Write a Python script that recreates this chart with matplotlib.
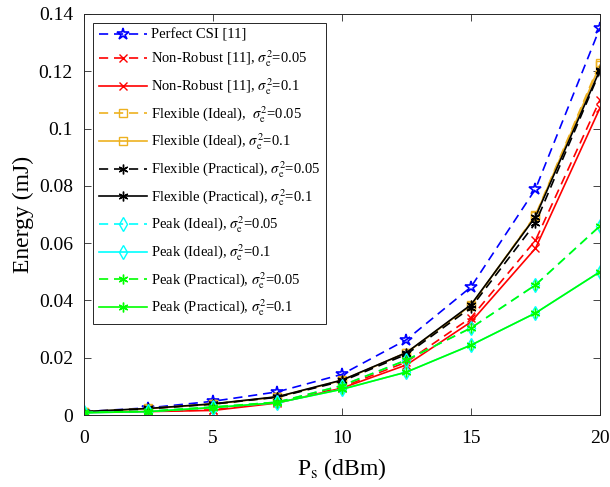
import numpy as np
import matplotlib
matplotlib.use("Agg")
import matplotlib.pyplot as plt

plt.rcParams['font.family'] = ['Liberation Serif', 'DejaVu Serif']
plt.rcParams['mathtext.fontset'] = 'stix'

# Transmit power (dBm)
ps = [0, 2.5, 5, 7.5, 10, 12.5, 15, 17.5, 20]

# Energy (mJ) for each scheme
perfect_csi = [0.0012, 0.0025, 0.0048, 0.0081, 0.0142, 0.0263, 0.0447, 0.0789, 0.1352]
nonrobust_005 = [0.0010, 0.0013, 0.0018, 0.0045, 0.0098, 0.0185, 0.0340, 0.0610, 0.1100]
nonrobust_01 = [0.0009, 0.0012, 0.0016, 0.0042, 0.0094, 0.0175, 0.0325, 0.0582, 0.1072]
flex_ideal_005 = [0.0012, 0.0023, 0.0039, 0.0063, 0.0120, 0.0218, 0.0380, 0.0698, 0.1230]
flex_ideal_01 = [0.0011, 0.0022, 0.0038, 0.0063, 0.0121, 0.0217, 0.0383, 0.0695, 0.1222]
flex_prac_005 = [0.0011, 0.0022, 0.0038, 0.0062, 0.0118, 0.0212, 0.0375, 0.0670, 0.1200]
flex_prac_01 = [0.0012, 0.0023, 0.0039, 0.0064, 0.0122, 0.0218, 0.0385, 0.0692, 0.1205]
peak_ideal_005 = [0.0009, 0.0013, 0.0028, 0.0045, 0.0103, 0.0192, 0.0304, 0.0454, 0.0660]
peak_ideal_01 = [0.0008, 0.0012, 0.0026, 0.0043, 0.0090, 0.0150, 0.0244, 0.0356, 0.0500]
peak_prac_005 = [0.0009, 0.0013, 0.0028, 0.0045, 0.0103, 0.0192, 0.0304, 0.0454, 0.0660]
peak_prac_01 = [0.0008, 0.0012, 0.0026, 0.0043, 0.0090, 0.0150, 0.0244, 0.0356, 0.0500]

orange = (0.929, 0.694, 0.125)
asterisk = (6, 2, 0)
dash = (0, (5.5, 3.5))

fig = plt.figure(figsize=(6.1, 4.87), dpi=100)
ax = fig.add_axes([0.1377, 0.1478, 0.8459, 0.8235])

ax.plot(ps, perfect_csi, color='blue', linestyle=dash, lw=1.2, marker='*', ms=9,
        mfc='none', mew=1.2, label='Perfect CSI [11]')
ax.plot(ps, nonrobust_005, color='red', linestyle=dash, lw=1.2, marker='x', ms=6,
        label=r'Non-Robust [11], $\sigma_\mathrm{e}^2$=0.05')
ax.plot(ps, nonrobust_01, color='red', linestyle='-', lw=1.2, marker='x', ms=6,
        label=r'Non-Robust [11], $\sigma_\mathrm{e}^2$=0.1')
ax.plot(ps, flex_ideal_005, color=orange, linestyle=dash, lw=1.2, marker='s', ms=6,
        mfc='none', label=r'Flexible (Ideal),  $\sigma_\mathrm{e}^2$=0.05')
ax.plot(ps, flex_ideal_01, color=orange, linestyle='-', lw=1.2, marker='s', ms=6,
        mfc='none', label=r'Flexible (Ideal), $\sigma_\mathrm{e}^2$=0.1')
ax.plot(ps, flex_prac_005, color='black', linestyle=dash, lw=1.2, marker=asterisk, ms=7,
        label=r'Flexible (Practical), $\sigma_\mathrm{e}^2$=0.05')
ax.plot(ps, flex_prac_01, color='black', linestyle='-', lw=1.2, marker=asterisk, ms=7,
        label=r'Flexible (Practical), $\sigma_\mathrm{e}^2$=0.1')
ax.plot(ps, peak_ideal_005, color='cyan', linestyle=dash, lw=1.2, marker='d', ms=7,
        mfc='none', label=r'Peak (Ideal), $\sigma_\mathrm{e}^2$=0.05')
ax.plot(ps, peak_ideal_01, color='cyan', linestyle='-', lw=1.2, marker='d', ms=7,
        mfc='none', label=r'Peak (Ideal), $\sigma_\mathrm{e}^2$=0.1')
ax.plot(ps, peak_prac_005, color=(0, 1, 0), linestyle=dash, lw=1.2, marker=asterisk, ms=7,
        label=r'Peak (Practical), $\sigma_\mathrm{e}^2$=0.05')
ax.plot(ps, peak_prac_01, color=(0, 1, 0), linestyle='-', lw=1.2, marker=asterisk, ms=7,
        label=r'Peak (Practical), $\sigma_\mathrm{e}^2$=0.1')

ax.set_xlim(0, 20)
ax.set_ylim(0, 0.14)
ax.set_xticks([0, 5, 10, 15, 20])
ax.set_yticks([0, 0.02, 0.04, 0.06, 0.08, 0.1, 0.12, 0.14])
ax.set_yticklabels(['0', '0.02', '0.04', '0.06', '0.08', '0.1', '0.12', '0.14'])
ax.tick_params(direction='in', top=True, right=True, labelsize=14, length=5,
               color='0.15', width=0.6)
ax.tick_params(axis='x', pad=11)
ax.tick_params(axis='y', pad=8)
for s in ax.spines.values():
    s.set_color('0.15')
    s.set_linewidth(0.7)

ax.set_xlabel(r'P$_\mathrm{s}$ (dBm)', fontsize=17, labelpad=6)
ax.set_ylabel('Energy (mJ)', fontsize=17, labelpad=3)

leg = ax.legend(loc='upper left', fontsize=10.5, fancybox=False, framealpha=1,
                edgecolor='0.15', handlelength=3.3, labelspacing=0.47,
                borderaxespad=0.6, handletextpad=0.3, borderpad=0.4)
leg.get_frame().set_linewidth(0.7)

fig.savefig('out.png', dpi=100)
